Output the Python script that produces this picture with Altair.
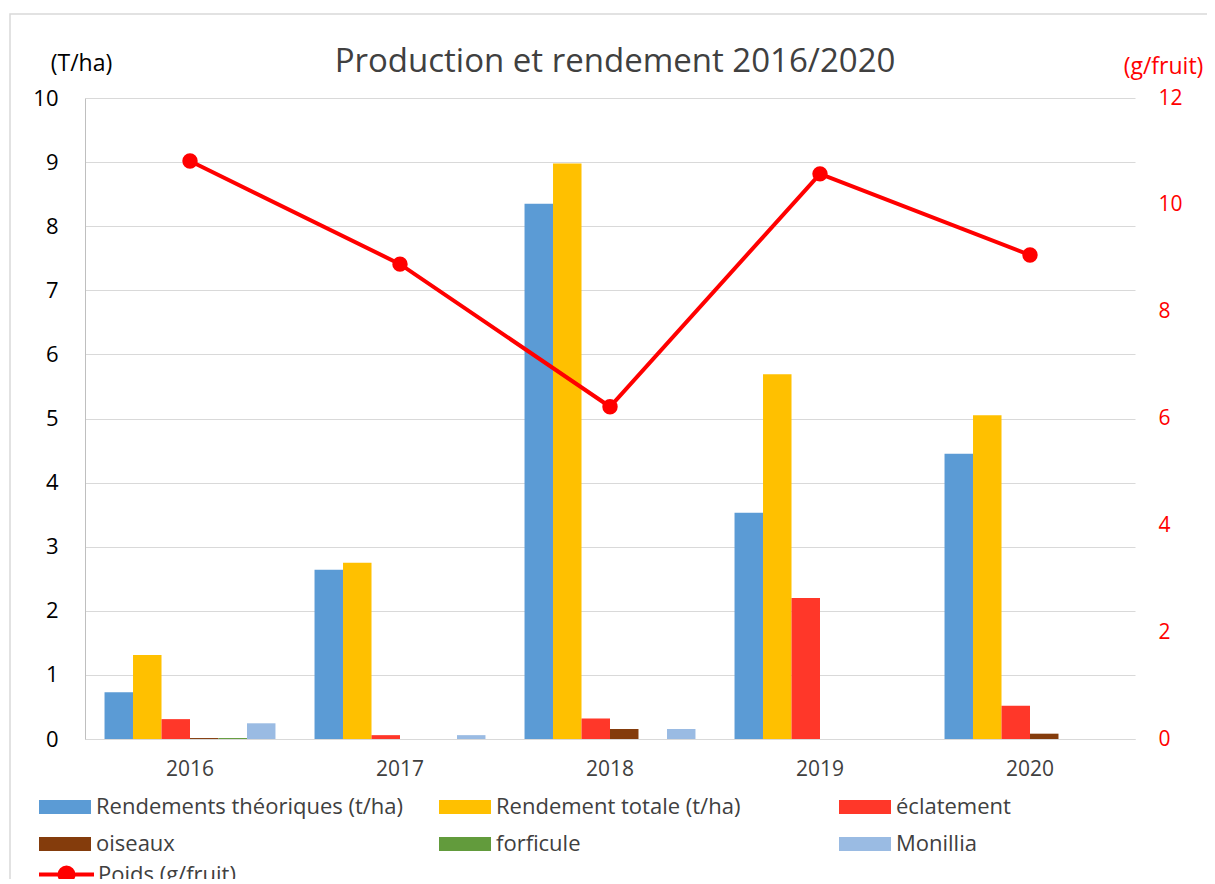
import altair as alt
import pandas as pd

years = ["2016", "2017", "2018", "2019", "2020"]
series = ["Rendements théoriques (t/ha)", "Rendement totale (t/ha)", "éclatement",
          "oiseaux", "forficule", "Monillia"]
colors = ["#5B9BD5", "#FFC000", "#FF3729", "#843C0C", "#629B3C", "#9ABBE3"]

rend_theo = [0.73, 2.64, 8.35, 3.53, 4.45]
rend_tot = [1.31, 2.75, 8.98, 5.69, 5.05]
eclatement = [0.31, 0.06, 0.32, 2.20, 0.52]
oiseaux = [0.015, 0.0, 0.156, 0.0, 0.083]
forficule = [0.015, 0.0, 0.0, 0.0, 0.0]
monillia = [0.245, 0.06, 0.156, 0.0, 0.0]
poids = [10.82, 8.89, 6.22, 10.58, 9.06]
poids_label = "Poids (g/fruit)"

FONT = "Open Sans"

rows = []
for s, vals in zip(series, [rend_theo, rend_tot, eclatement, oiseaux, forficule, monillia]):
    for y, v in zip(years, vals):
        rows.append({"year": y, "series": s, "value": v})
df_bars = pd.DataFrame(rows)
df_line = pd.DataFrame({"year": years, "poids": poids, "label": [poids_label] * len(years)})

x_enc = alt.X(
    "year:N",
    sort=years,
    scale=alt.Scale(domain=years, paddingInner=0.186, paddingOuter=0.093),
    axis=alt.Axis(title=None, labelAngle=0, ticks=False, domain=True, domainColor="#D9D9D9",
                  labelFont=FONT, labelFontSize=21, labelColor="#404040", labelPadding=19,
                  grid=False),
)

bars = alt.Chart(df_bars).mark_bar(strokeWidth=0).encode(
    x=x_enc,
    xOffset=alt.XOffset("series:N", sort=series,
                        scale=alt.Scale(domain=series, paddingInner=0, paddingOuter=0)),
    y=alt.Y("value:Q", scale=alt.Scale(domain=[0, 10], nice=False),
            axis=alt.Axis(orient="left", values=list(range(0, 11)), grid=True, gridColor="#D9D9D9",
                          gridWidth=1, ticks=False, domain=True, domainColor="#BFBFBF",
                          labelFont=FONT, labelFontSize=22, labelColor="#000000", labelPadding=27,
                          title="(T/ha)", titleAngle=0, titleX=-4, titleY=-28,
                          titleAlign="center", titleBaseline="alphabetic", titleFont=FONT,
                          titleFontSize=23, titleFontWeight="normal", titleColor="#000000")),
    color=alt.Color("series:N", sort=series, scale=alt.Scale(domain=series, range=colors),
                    legend=alt.Legend(orient="none", legendX=-46, legendY=683, columns=3,
                                      gridAlign="all", columnPadding=35, rowPadding=-3,
                                      title=None, direction="horizontal",
                                      symbolType="M-1,-0.27H1V0.27H-1Z", symbolSize=2704,
                                      symbolStrokeWidth=0, symbolOpacity=1, labelOffset=5,
                                      labelFont=FONT, labelFontSize=22, labelColor="#404040",
                                      labelLimit=500, padding=0)),
)

line = alt.Chart(df_line).mark_line(
    color="#FF0000", strokeWidth=4,
    point=alt.OverlayMarkDef(color="#FF0000", fill="#FF0000", size=180, filled=True, opacity=1),
).encode(
    x=x_enc,
    y=alt.Y("poids:Q", scale=alt.Scale(domain=[0, 12], nice=False),
            axis=alt.Axis(orient="right", values=list(range(0, 13, 2)), grid=False, ticks=False,
                          domain=False, labelFont=FONT, labelFontSize=21, labelColor="#FF0000",
                          labelPadding=23, title="(g/fruit)", titleAngle=0, titleX=28, titleY=-25,
                          titleAlign="center", titleBaseline="alphabetic", titleFont=FONT,
                          titleFontSize=23, titleFontWeight="normal", titleColor="#FF0000")),
    stroke=alt.Stroke("label:N", scale=alt.Scale(domain=[poids_label], range=["#FF0000"]),
                      legend=alt.Legend(orient="none", legendX=-48, legendY=747, title=None,
                                        symbolType="M-1,0H1M0.255,0A0.255,0.255,0,1,1,-0.255,0A0.255,0.255,0,1,1,0.255,0Z",
                                        symbolSize=3025, symbolStrokeWidth=4, labelOffset=2,
                                        symbolFillColor="#FF0000", symbolStrokeColor="#FF0000",
                                        symbolOpacity=1,
                                        labelFont=FONT, labelFontSize=22, labelColor="#404040",
                                        labelLimit=500, padding=0)),
)

frame = alt.Chart(pd.DataFrame({"a": [0]})).mark_rect(
    fill="transparent", stroke="#D9D9D9", strokeWidth=1.5
).encode(x=alt.value(-75), x2=alt.value(1300), y=alt.value(-84), y2=alt.value(900))

chart = alt.layer(frame, bars, line).resolve_scale(
    y="independent", color="independent", stroke="independent"
).properties(
    width=1050, height=641,
    padding={"left": 77, "top": 90, "right": 72, "bottom": 140},
    autosize=alt.AutoSizeParams(type="none"),
    title=alt.TitleParams("Production et rendement 2016/2020", font=FONT, fontSize=33,
                          fontWeight="normal", color="#404040", anchor="middle", dx=5, offset=-66),
).configure_view(strokeWidth=0)

chart.save("out.html", embed_options={"renderer": "svg", "actions": False})
